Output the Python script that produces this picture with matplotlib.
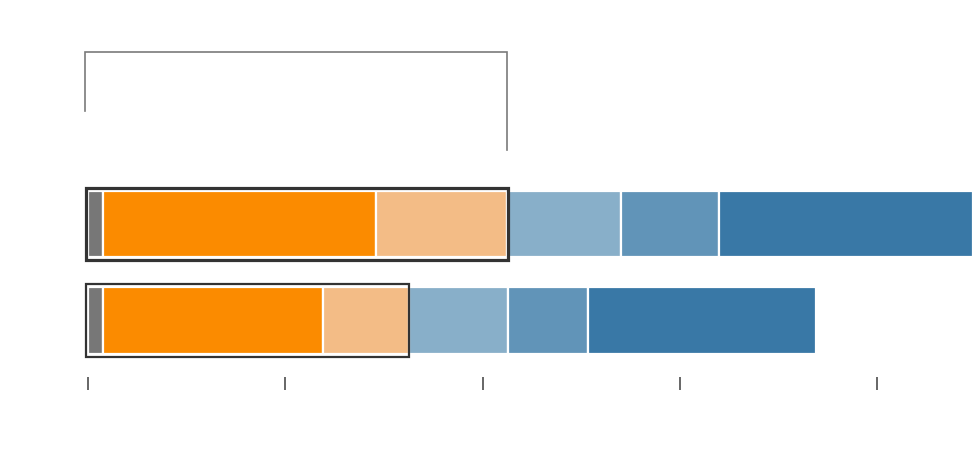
import matplotlib.pyplot as plt
from matplotlib.patches import Rectangle

# data
rows = [0, 1]
gray_vals = [1.5, 1.5]
orange_vals = [27.7, 22.3]
lorange_vals = [13.3, 8.7]
lblue_vals = [11.5, 10.1]
mblue_vals = [10.0, 8.1]
dblue_vals = [25.7, 23.1]
tick_vals = [0, 20, 40, 60, 80]

series = [gray_vals, orange_vals, lorange_vals, lblue_vals, mblue_vals, dblue_vals]
colors = ['#777777', '#fb8b00', '#f3bc86', '#88afc9', '#6194b8', '#3978a6']

fig = plt.figure(figsize=(9.8, 4.54), dpi=100)
ax = fig.add_axes([0, 0, 1, 1])

left = [0.0, 0.0]
for vals, c in zip(series, colors):
    ax.barh(rows, vals, left=left, height=0.694, color=c,
            edgecolor='white', linewidth=1.6)
    left = [l + v for l, v in zip(left, vals)]

# outline round the first three segments
box_w = [g + o + lo for g, o, lo in zip(gray_vals, orange_vals, lorange_vals)]
box_lw = [2.3, 1.6]
for r, w, lw in zip(rows, box_w, box_lw):
    ax.add_patch(Rectangle((-0.2, r - 0.375), w + 0.25, 0.75, fill=False,
                           edgecolor='#333333', linewidth=lw, zorder=5))

# bracket on top
bx0, bx1 = -0.3, box_w[0]
ax.plot([bx0, bx0, bx1, bx1], [-1.171, -1.782, -1.782, -0.767],
        color='#7a7a7a', linewidth=1.2, solid_joinstyle='miter')

ax.set_xlim(-8.92, 90.42)
ax.set_ylim(2.383, -2.321)

ax.set_xticks(tick_vals)
ax.set_xticklabels([])
ax.set_yticks([])
for s in ['top', 'left', 'right']:
    ax.spines[s].set_visible(False)
ax.spines['bottom'].set_position(('data', 1.585))
ax.spines['bottom'].set_color('none')
ax.tick_params(axis='x', direction='out', length=9, width=1.4, color='#666666')

fig.savefig('out.png', dpi=100)
